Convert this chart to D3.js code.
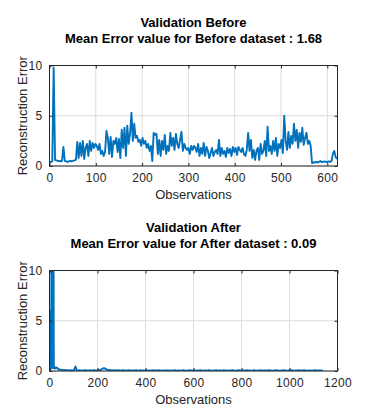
<!DOCTYPE html>
<html>
<head>
<meta charset="utf-8">
<script src="https://cdn.jsdelivr.net/npm/d3@7"></script>
<style>
  body { margin: 0; background: #fff; }
  svg { font-family: "Liberation Sans", Arial, sans-serif; }
  .tick text { fill: #262626; font-size: 12px; font-family: "Liberation Sans", Arial, sans-serif; letter-spacing: 0.3px; }
  .tick line { stroke: #262626; }
  .domain { display: none; }
</style>
</head>
<body>
<div id="chart"></div>
<script>
//// data
// before: one value per 3 observations (obs 0..621)
var beforeErr = [
  0.4,0.4,0.45,9.8,0.6,0.55,0.5,0.5,0.45,0.5,
  1.9,0.5,0.45,0.4,0.45,0.5,0.45,0.5,0.55,0.6,
  2.4,0.8,2.3,1.0,2.5,0.7,1.8,2.2,1.0,2.5,
  1.5,2.3,1.8,2.2,2.0,1.6,2.2,1.2,1.5,1.0,
  1.4,3.5,2.8,1.2,2.9,0.9,2.5,2.2,2.8,1.4,
  2.7,0.8,3.6,1.8,3.8,1.0,4.0,2.2,3.2,5.3,
  2.5,4.2,2.8,3.0,2.4,2.6,2.0,2.8,2.2,2.5,
  1.8,2.2,1.5,2.0,0.5,3.3,3.1,3.2,1.2,2.6,
  1.0,2.5,1.6,3.1,1.2,2.0,1.5,3.3,2.0,2.8,
  1.6,3.2,2.2,1.8,2.6,3.4,1.5,2.2,1.8,1.6,
  1.8,1.2,2.0,1.6,2.0,1.8,1.4,2.2,1.0,1.8,
  1.2,2.3,1.0,1.9,1.5,0.8,1.3,1.8,1.0,1.4,
  1.6,1.2,2.6,1.0,1.8,1.2,1.5,0.9,1.8,1.3,
  1.7,1.0,1.9,1.4,1.8,1.1,1.9,1.6,1.4,1.8,
  1.2,1.0,1.6,3.3,1.5,2.6,0.8,1.6,0.6,1.5,
  1.8,0.6,2.2,1.2,1.5,2.5,1.0,3.9,1.5,2.0,
  1.2,2.5,1.5,2.8,1.0,2.2,1.8,2.6,1.3,5.0,
  2.5,1.6,3.4,1.8,3.0,2.2,4.2,2.5,3.6,1.8,
  3.3,2.4,3.8,2.1,2.8,3.3,2.2,2.5,2.0,0.3,
  0.35,0.35,0.4,0.35,0.4,0.5,0.4,0.4,0.45,0.4,
  0.4,0.45,0.4,0.5,1.2,1.5,0.9,0.7
];
var beforeStep = 3;

// after: obs 0..23 one by one, then one value per 6 observations (obs 24..1140)
var afterHead = [6.1,0.3,5.9,0.2,0.3,0.2,0.4,0.3,12,0.3,11,0.5,13,0.4,10.5,0.3,12,11,0.4,0.3,0.45,0.3,0.35,0.25];
var afterTail = [
  0.3,0.35,0.2,0.15,0.12,0.1,0.08,0.1,0.06,0.08,
  0.05,0.07,0.06,0.08,0.45,0.06,0.05,0.07,0.04,0.06,
  0.05,0.08,0.06,0.04,0.07,0.05,0.06,0.09,0.05,0.06,
  0.08,0.1,0.15,0.25,0.28,0.22,0.12,0.1,0.08,0.09,
  0.07,0.06,0.08,0.05,0.07,0.04,0.06,0.08,0.05,0.06,
  0.04,0.07,0.05,0.06,0.03,0.06,0.08,0.05,0.04,0.07,
  0.05,0.06,0.04,0.07,0.05,0.03,0.06,0.05,0.07,0.04,
  0.06,0.05,0.08,0.04,0.06,0.05,0.03,0.07,0.05,0.06,
  0.04,0.06,0.05,0.07,0.04,0.05,0.06,0.03,0.05,0.07,
  0.05,0.04,0.06,0.05,0.07,0.04,0.06,0.05,0.04,0.06,
  0.05,0.07,0.04,0.06,0.05,0.03,0.06,0.08,0.05,0.04,
  0.06,0.05,0.07,0.04,0.06,0.05,0.04,0.07,0.05,0.06,
  0.04,0.06,0.05,0.07,0.05,0.04,0.06,0.05,0.07,0.04,
  0.06,0.05,0.04,0.07,0.05,0.06,0.04,0.05,0.07,0.05,
  0.04,0.06,0.05,0.07,0.04,0.05,0.06,0.04,0.07,0.05,
  0.06,0.04,0.05,0.07,0.05,0.06,0.04,0.05,0.06,0.07,
  0.05,0.04,0.06,0.05,0.08,0.05,0.04,0.06,0.05,0.07,
  0.04,0.06,0.05,0.07,0.05,0.04,0.06,0.05,0.04,0.06,
  0.05,0.07,0.04,0.06,0.05,0.04,0.06
];
var afterStep = 6;

var beforeXTicks = [0, 100, 200, 300, 400, 500, 600];
var afterXTicks = [0, 200, 400, 600, 800, 1000, 1200];
var yTicks = [0, 5, 10];

var beforeTitle = ["Validation Before", "Mean Error value for Before dataset : 1.68"];
var afterTitle = ["Validation After", "Mean Error value for After dataset : 0.09"];

//// build point lists
var beforePts = beforeErr.map(function(v, i) { return [i * beforeStep, v]; });
var afterPts = afterHead.map(function(v, i) { return [i, v]; })
  .concat(afterTail.map(function(v, i) { return [afterHead.length + i * afterStep, v]; }));

var svg = d3.select("#chart").append("svg")
  .attr("width", 374)
  .attr("height", 420);

function panel(id, top, xMax, xTicks, pts, title) {
  var left = 49.5, w = 288, h = 100.5;
  var x = d3.scaleLinear().domain([0, xMax]).range([0, w]);
  var y = d3.scaleLinear().domain([0, 10]).range([h, 0]);

  var g = svg.append("g").attr("transform", "translate(" + left + "," + top + ")");

  // grid
  g.append("g").selectAll("line.gx").data(xTicks).enter().append("line")
    .attr("x1", d => x(d)).attr("x2", d => x(d))
    .attr("y1", 0).attr("y2", h)
    .attr("stroke", "#dcdcdc").attr("stroke-width", 1);
  g.append("g").selectAll("line.gy").data(yTicks).enter().append("line")
    .attr("x1", 0).attr("x2", w)
    .attr("y1", d => y(d)).attr("y2", d => y(d))
    .attr("stroke", "#dcdcdc").attr("stroke-width", 1);

  // line
  g.append("clipPath").attr("id", id).append("rect")
    .attr("width", w).attr("height", h);
  g.append("path")
    .datum(pts)
    .attr("clip-path", "url(#" + id + ")")
    .attr("fill", "none")
    .attr("stroke", "#0072BD")
    .attr("stroke-width", 1.9)
    .attr("stroke-linejoin", "round")
    .attr("d", d3.line().x(d => x(d[0])).y(d => y(d[1])));

  // axes (ticks inside, box on)
  g.append("g").attr("transform", "translate(0," + h + ")")
    .call(d3.axisBottom(x).tickValues(xTicks).tickFormat(d3.format("d"))
      .tickSize(-3).tickPadding(7).tickSizeOuter(0));
  g.append("g")
    .call(d3.axisTop(x).tickValues(xTicks).tickSize(-3).tickFormat("").tickSizeOuter(0));
  g.append("g")
    .call(d3.axisLeft(y).tickValues(yTicks).tickSize(-3).tickPadding(7).tickSizeOuter(0));
  g.append("g").attr("transform", "translate(" + w + ",0)")
    .call(d3.axisRight(y).tickValues(yTicks).tickSize(-3).tickFormat("").tickSizeOuter(0));
  g.append("rect")
    .attr("width", w).attr("height", h)
    .attr("fill", "none").attr("stroke", "#262626").attr("stroke-width", 1);

  // labels
  g.append("text")
    .attr("x", w / 2).attr("y", h + 33)
    .attr("text-anchor", "middle")
    .attr("fill", "#262626").style("font-size", "13px")
    .text("Observations");
  g.append("text")
    .attr("transform", "translate(" + (-23) + "," + (h / 2) + ") rotate(-90)")
    .attr("text-anchor", "middle")
    .attr("fill", "#262626").style("font-size", "13px")
    .text("Reconstruction Error");

  // title
  g.selectAll("text.title").data(title).enter().append("text")
    .attr("class", "title")
    .attr("x", w / 2).attr("y", (d, i) => -39 + i * 16.5)
    .attr("text-anchor", "middle")
    .attr("font-weight", "bold")
    .style("font-size", "13px")
    .attr("fill", "#000")
    .text(d => d);
}

panel("clipB", 65.5, 622, beforeXTicks, beforePts, beforeTitle);
panel("clipA", 270.5, 1200, afterXTicks, afterPts, afterTitle);
</script>
</body>
</html>
